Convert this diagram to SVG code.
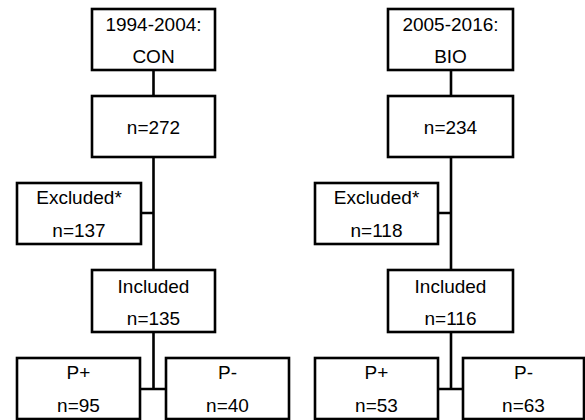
<svg xmlns="http://www.w3.org/2000/svg" width="585" height="420" viewBox="0 0 585 420">
<style>
rect{fill:#fff;stroke:#000;stroke-width:2.6}
text{font-family:"Liberation Sans",Arial,sans-serif;font-size:19px;fill:#000;text-anchor:middle}
.c{fill:none;stroke:#000;stroke-width:2.6}
</style>
<rect x="0" y="0" width="585" height="420" style="stroke:none"/>
<g id="connectors">
<path class="c" d="M153.5 70V96M153.5 157V270M141 213H153.5M153.5 332V389M140 389H166"/>
<path class="c" d="M451 70V96M451 157V270M438 213H451M451 332V389M438 389H463"/>
</g>
<g id="con"><rect x="92" y="9" width="123" height="61"/><text x="153.5" y="31">1994-2004:</text><text x="153.5" y="63">CON</text></g>
<g id="n272"><rect x="92" y="96" width="123" height="61"/><text x="153.5" y="134">n=272</text></g>
<g id="excl1"><rect x="17" y="183" width="124" height="61"/><text x="79" y="204">Excluded*</text><text x="79" y="237">n=137</text></g>
<g id="incl1"><rect x="92" y="270" width="123" height="62"/><text x="153.5" y="293">Included</text><text x="153.5" y="325">n=135</text></g>
<g id="pplus1"><rect x="17" y="358" width="123" height="61"/><text x="78.5" y="379">P+</text><text x="78.5" y="412">n=95</text></g>
<g id="pminus1"><rect x="166" y="358" width="123" height="61"/><text x="227.5" y="379">P-</text><text x="227.5" y="412">n=40</text></g>
<g id="bio"><rect x="388" y="9" width="125" height="61"/><text x="450.5" y="31">2005-2016:</text><text x="450.5" y="63">BIO</text></g>
<g id="n234"><rect x="388" y="96" width="125" height="61"/><text x="450.5" y="134">n=234</text></g>
<g id="excl2"><rect x="315" y="183" width="123" height="61"/><text x="376.5" y="204">Excluded*</text><text x="376.5" y="237">n=118</text></g>
<g id="incl2"><rect x="388" y="270" width="125" height="62"/><text x="450.5" y="293">Included</text><text x="450.5" y="325">n=116</text></g>
<g id="pplus2"><rect x="315" y="358" width="123" height="61"/><text x="376.5" y="379">P+</text><text x="376.5" y="412">n=53</text></g>
<g id="pminus2"><rect x="463" y="358" width="121" height="61"/><text x="523.5" y="379">P-</text><text x="523.5" y="412">n=63</text></g>
</svg>
